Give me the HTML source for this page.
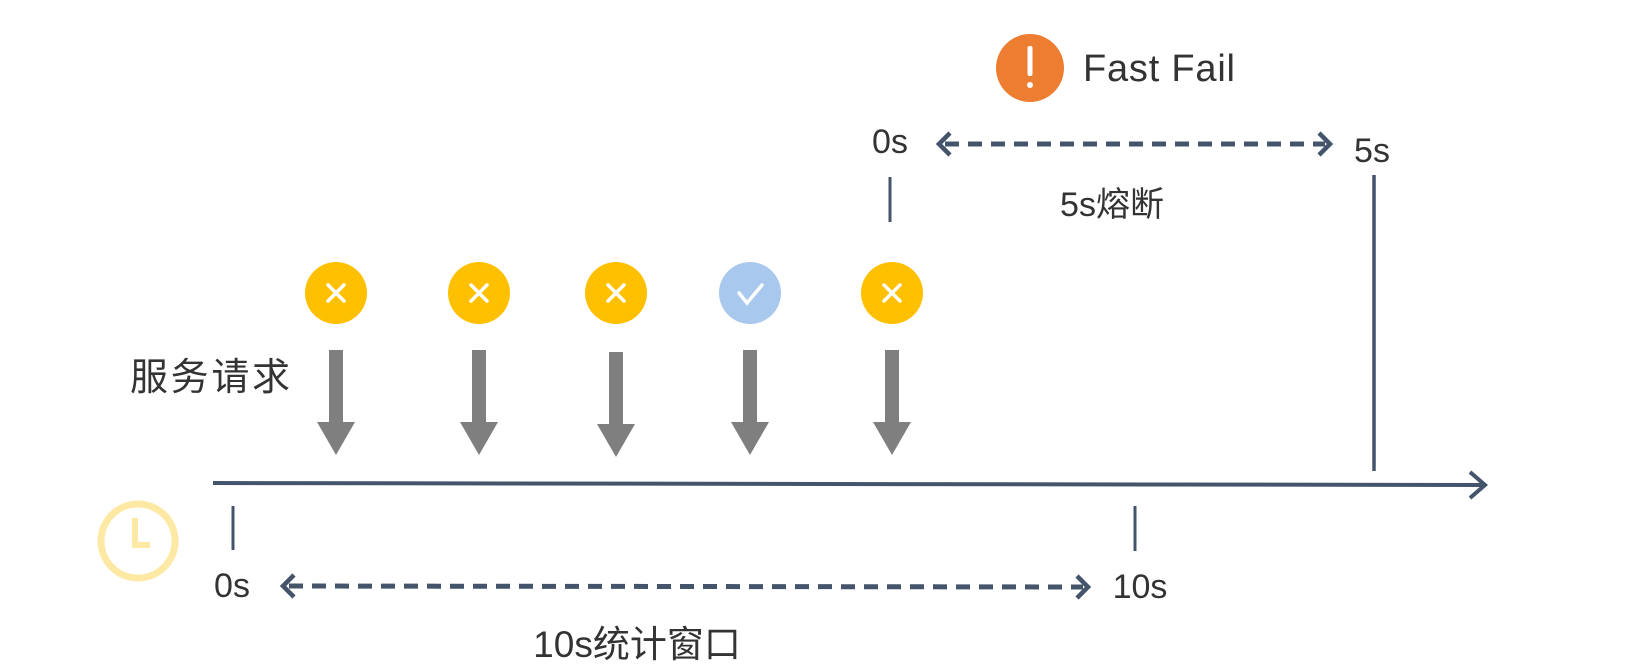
<!DOCTYPE html>
<html><head><meta charset="utf-8"><style>
html,body{margin:0;padding:0;background:#fff;width:1632px;height:668px;overflow:hidden}
svg text{font-family:"Liberation Sans","Noto Sans CJK SC",sans-serif;fill:#333}
</style></head><body>
<svg width="1632" height="668" viewBox="0 0 1632 668">
<!-- fast fail -->
<circle cx="1030" cy="68" r="34" fill="#ed7d31"/>
<rect x="1027.5" y="46" width="5" height="30" rx="2" fill="#fff"/>
<circle cx="1030" cy="85" r="3" fill="#fff"/>
<text x="1083" y="81" font-size="38" textLength="152">Fast Fail</text>
<!-- top dashed -->
<text x="890" y="153" font-size="34" text-anchor="middle">0s</text>
<line x1="945" y1="144" x2="1325" y2="144" stroke="#44546a" stroke-width="5" stroke-dasharray="14,9"/>
<path d="M950,133 L939,144 L950,155" fill="none" stroke="#44546a" stroke-width="4.5"/>
<path d="M1319,133 L1330,144 L1319,155" fill="none" stroke="#44546a" stroke-width="4.5"/>
<text x="1372" y="162" font-size="34" text-anchor="middle">5s</text>
<line x1="890" y1="177" x2="890" y2="222" stroke="#44546a" stroke-width="3"/>
<text x="1112" y="216" font-size="34" text-anchor="middle">5s熔断</text>
<line x1="1374" y1="175" x2="1374" y2="471" stroke="#44546a" stroke-width="3.5"/>
<!-- circles -->
<g stroke="#fff" stroke-width="3.5" stroke-linecap="round">
<circle cx="336" cy="293" r="31" fill="#ffc000" stroke="none"/><path d="M328,285 L344,301 M344,285 L328,301"/>
<circle cx="479" cy="293" r="31" fill="#ffc000" stroke="none"/><path d="M471,285 L487,301 M487,285 L471,301"/>
<circle cx="616" cy="293" r="31" fill="#ffc000" stroke="none"/><path d="M608,285 L624,301 M624,285 L608,301"/>
<circle cx="750" cy="293" r="31" fill="#a9c8ee" stroke="none"/><path d="M739,293 L747,303 L762,285" fill="none"/>
<circle cx="892" cy="293" r="31" fill="#ffc000" stroke="none"/><path d="M884,285 L900,301 M900,285 L884,301"/>
</g>
<!-- arrows -->
<g fill="#7f7f7f">
<rect x="329" y="350" width="14" height="72"/><path d="M317,422 L355,422 L336,455Z"/>
<rect x="472" y="350" width="14" height="72"/><path d="M460,422 L498,422 L479,455Z"/>
<rect x="609" y="352" width="14" height="72"/><path d="M597,424 L635,424 L616,457Z"/>
<rect x="743" y="350" width="14" height="72"/><path d="M731,422 L769,422 L750,455Z"/>
<rect x="885" y="350" width="14" height="72"/><path d="M873,422 L911,422 L892,455Z"/>
</g>
<text x="130" y="390" font-size="38" textLength="160">服务请求</text>
<!-- axis -->
<line x1="213" y1="483" x2="1482" y2="485" stroke="#44546a" stroke-width="4"/>
<path d="M1470,472 L1485,485 L1470,498" fill="none" stroke="#44546a" stroke-width="4"/>
<!-- clock -->
<circle cx="138" cy="541" r="37" fill="none" stroke="#fde9a3" stroke-width="7"/>
<path d="M135,518 L135,545 L150,545" fill="none" stroke="#fde9a3" stroke-width="6"/>
<!-- ticks -->
<line x1="233" y1="506" x2="233" y2="550" stroke="#44546a" stroke-width="3"/>
<line x1="1135" y1="506" x2="1135" y2="551" stroke="#44546a" stroke-width="3"/>
<text x="232" y="597" font-size="34" text-anchor="middle">0s</text>
<text x="1140" y="598" font-size="34" text-anchor="middle">10s</text>
<line x1="289" y1="586" x2="1083" y2="587" stroke="#44546a" stroke-width="5" stroke-dasharray="14,9"/>
<path d="M294,575 L283,586 L294,597" fill="none" stroke="#44546a" stroke-width="4.5"/>
<path d="M1077,576 L1088,587 L1077,598" fill="none" stroke="#44546a" stroke-width="4.5"/>
<text x="637" y="657" font-size="37" text-anchor="middle">10s统计窗口</text>
</svg>
</body></html>
